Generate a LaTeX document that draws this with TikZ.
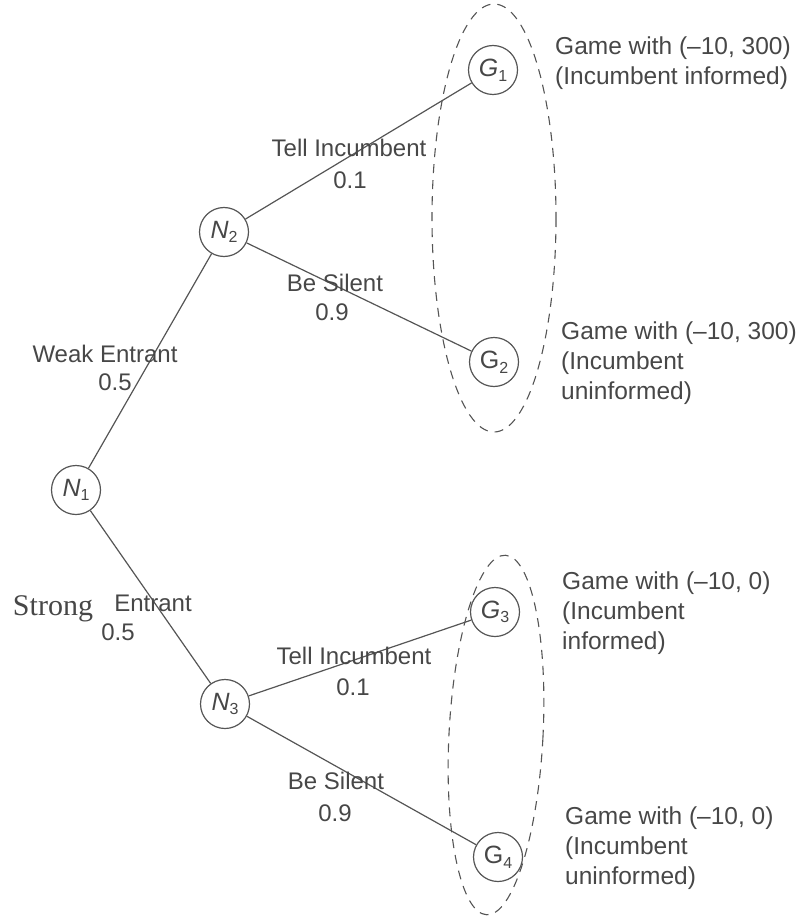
\documentclass[tikz,border=0pt]{standalone}
\usepackage{fontspec}
\setmainfont{Liberation Sans}
\newfontfamily\serifface{Liberation Serif}
\definecolor{ink}{HTML}{474747}
\definecolor{edge}{HTML}{555555}
% node label: letter with a small upright index
\newcommand{\tlab}[2]{#1\raisebox{-0.35ex}{\fontsize{16}{16}\selectfont #2}}
\begin{document}
\begin{tikzpicture}[x=1pt,y=-1pt,
  every node/.style={text=ink, font=\fontsize{24}{30}\selectfont},
  gnode/.style={circle, draw=edge, line width=1.2pt, minimum size=49pt, inner sep=0pt,
                font=\fontsize{25}{25}\selectfont},
  branch/.style={draw=edge, line width=1.2pt},
  infoset/.style={draw=edge, line width=1.1pt, dash pattern=on 9pt off 7pt},
  lbl/.style={inner sep=0pt},
  side/.style={inner sep=0pt, anchor=north west, align=left,
               font=\fontsize{24.5}{30}\selectfont}]
\useasboundingbox (0,0) rectangle (807,917);

% decision nodes
\node[gnode] (n1) at (76,490)  {\tlab{\textit{N}}{1}};
\node[gnode] (n2) at (224,232) {\tlab{\textit{N}}{2}};
\node[gnode] (n3) at (225,704) {\tlab{\textit{N}}{3}};
\node[gnode] (g1) at (493,70)  {\tlab{\textit{G}}{1}};
\node[gnode] (g2) at (494,362) {\tlab{G}{2}};
\node[gnode] (g3) at (495,612) {\tlab{\textit{G}}{3}};
\node[gnode] (g4) at (498,857) {\tlab{G}{4}};

% information sets
\draw[infoset] (494,218) ellipse [x radius=62, y radius=214];
\draw[infoset] (496,735) [rotate around={-3:(496,735)}] ellipse [x radius=47, y radius=180];

% branches
\draw[branch] (n1) -- (n2);
\draw[branch] (n1) -- (n3);
\draw[branch] (n2) -- (g1);
\draw[branch] (n2) -- (g2);
\draw[branch] (n3) -- (g3);
\draw[branch] (n3) -- (g4);

% branch labels
\node[lbl] (t1) at (349,148) {Tell Incumbent};
\node[lbl] (p1) at (350,180) {0.1};
\node[lbl] (s1) at (335,283) {Be Silent};
\node[lbl] (q1) at (332,312) {0.9};
\node[lbl] (we) at (105,354) {Weak Entrant};
\node[lbl] (wp) at (115,382) {0.5};
\node[lbl, font=\serifface\fontsize{30}{30}\selectfont] (st) at (53,609) {Strong};
\node[lbl] (se) at (153,603) {Entrant};
\node[lbl] (sp) at (118,632) {0.5};
\node[lbl] (t2) at (354,656) {Tell Incumbent};
\node[lbl] (p2) at (353,687) {0.1};
\node[lbl] (s2) at (336,781) {Be Silent};
\node[lbl] (q2) at (335,813) {0.9};

% outcome descriptions
\node[side] (d1) at (555,37)  {Game with (–10, 300)\\(Incumbent informed)};
\node[side] (d2) at (561,322) {Game with (–10, 300)\\(Incumbent\\uninformed)};
\node[side] (d3) at (562,572) {Game with (–10, 0)\\(Incumbent\\informed)};
\node[side] (d4) at (565,807) {Game with (–10, 0)\\(Incumbent\\uninformed)};
\end{tikzpicture}
\end{document}
